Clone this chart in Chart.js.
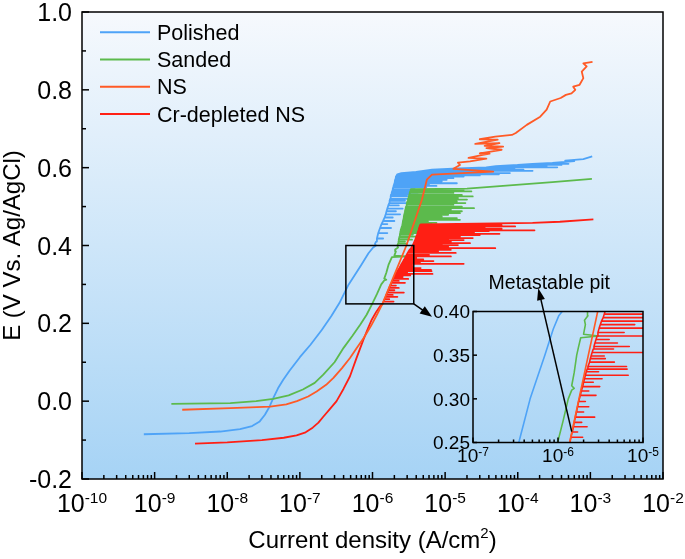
<!DOCTYPE html>
<html>
<head>
<meta charset="utf-8">
<script src="https://cdn.jsdelivr.net/npm/chart.js@4.4.1/dist/chart.umd.min.js"></script>
<style>
  html, body { margin: 0; padding: 0; background: #fff; }
  #wrap { position: relative; width: 685px; height: 559px; }
  #main { position: absolute; left: 0; top: 0; }
  #inset { position: absolute; left: 420px; top: 265px; }
</style>
</head>
<body>
<div id="wrap">
  <canvas id="main" width="685" height="559"></canvas>
  <canvas id="inset" width="250" height="210"></canvas>
</div>
<script>
// series names, colours
const seriesNames = ['Polished', 'Sanded', 'NS', 'Cr-depleted NS'];
const seriesColors = ['#4ea3f7', '#5cba4c', '#ff5a26', '#ff1f14'];

// [current density (A/cm2), E (V)]
// pits lists are [E, base current, spike current]
const polishedCurve = [
  [7.1e-10,-0.085],[3e-9,-0.082],[8e-9,-0.078],[1.5e-8,-0.072],[2.2e-8,-0.064],[2.8e-8,-0.052],
  [3.3e-8,-0.035],[3.8e-8,-0.015],[4.3e-8,0.008],[5.0e-8,0.033],[5.9e-8,0.055],[7.2e-8,0.078],
  [1.0e-7,0.113],[1.4e-7,0.145],[2e-7,0.183],[2.7e-7,0.218],[3.5e-7,0.252],[4.7e-7,0.30],
  [7.0e-7,0.35],[8.8e-7,0.38],[1.02e-6,0.395],[1.12e-6,0.40],[1.08e-6,0.404],[1.12e-6,0.41]
];
const polishedPits = [
  [0.418,1.15e-6,1.4e-6],[0.432,1.2e-6,1.6e-6],[0.445,1.27e-6,1.8e-6],[0.455,1.33e-6,1.6e-6],
  [0.463,1.4e-6,2.0e-6],[0.472,1.47e-6,1.9e-6],[0.48,1.52e-6,2.4e-6],[0.488,1.56e-6,2.1e-6],
  [0.495,1.6e-6,2.6e-6],[0.503,1.65e-6,2.3e-6],[0.509,1.7e-6,3.3e-6],[0.515,1.72e-6,2.8e-6],
  [0.52,1.75e-6,3.6e-6],[0.526,1.78e-6,3.0e-6],[0.531,1.8e-6,3.3e-6],[0.536,1.84e-6,4.2e-6],
  [0.54,1.87e-6,4.9e-6],[0.545,1.9e-6,3.8e-6],[0.55,1.93e-6,5.5e-6],[0.553,1.95e-6,7.6e-6],
  [0.557,1.98e-6,6e-6],[0.56,2.0e-6,1.45e-5],[0.565,2.03e-6,9e-6],[0.569,2.05e-6,1.05e-5],
  [0.573,2.08e-6,1.3e-5],[0.577,2.1e-6,1.8e-5],[0.58,2.15e-6,3.0e-5],[0.583,2.2e-6,5.5e-5],
  [0.586,2.5e-6,7.8e-5],[0.589,4e-6,3e-5],[0.592,5e-6,1.6e-4],[0.595,6.6e-6,1.2e-4],
  [0.598,1.5e-5,9e-5],[0.601,3.7e-5,3.5e-4],[0.604,5e-5,2.5e-4],[0.607,1e-4,4e-4],
  [0.61,1.6e-4,5e-4]
];
const polishedTail = [[3e-4,0.612],[6e-4,0.617],[4.5e-4,0.618],[8e-4,0.622],[1.06e-3,0.629]];

const sandedCurve = [
  [1.7e-9,-0.007],[1.1e-8,-0.005],[2.5e-8,0.0],[4.3e-8,0.006],[7e-8,0.015],[1.1e-7,0.03],
  [1.6e-7,0.047],[2.1e-7,0.068],[3e-7,0.1],[4e-7,0.137],[5.3e-7,0.168],[6.8e-7,0.197],
  [8.3e-7,0.222],[9.9e-7,0.25],[1.15e-6,0.275],[1.32e-6,0.30],[1.45e-6,0.31],[1.55e-6,0.312],
  [1.45e-6,0.315],[1.55e-6,0.33],[1.66e-6,0.35],[1.75e-6,0.36],[1.85e-6,0.37],[3.0e-6,0.372],
  [2.0e-6,0.374],[2.1e-6,0.385],[2.05e-6,0.39],[2.25e-6,0.395],[2.2e-6,0.40]
];
const sandedPits = [
  [0.405,2.25e-6,3.0e-6],[0.41,2.28e-6,2.8e-6],[0.415,2.3e-6,3.5e-6],[0.42,2.33e-6,3.2e-6],
  [0.423,2.35e-6,4.6e-6],[0.428,2.38e-6,3.6e-6],[0.432,2.4e-6,5.0e-6],[0.436,2.42e-6,6.2e-6],
  [0.44,2.45e-6,4.2e-6],[0.445,2.5e-6,5.5e-6],[0.45,2.55e-6,4.8e-6],[0.454,2.58e-6,6.5e-6],
  [0.458,2.6e-6,7.6e-6],[0.462,2.62e-6,5.8e-6],[0.466,2.65e-6,1.6e-5],[0.47,2.68e-6,1.45e-5],
  [0.474,2.7e-6,9e-6],[0.479,2.73e-6,1.1e-5],[0.483,2.76e-6,1.6e-5],[0.488,2.8e-6,1.7e-5],
  [0.492,2.83e-6,1.2e-5],[0.496,2.86e-6,2.5e-5],[0.5,2.9e-6,1.7e-5],[0.505,2.95e-6,1.3e-5],
  [0.509,2.98e-6,1.9e-5],[0.513,3.02e-6,1.45e-5],[0.518,3.08e-6,2.0e-5],[0.522,3.12e-6,1.5e-5],
  [0.526,3.17e-6,2.4e-5],[0.53,3.2e-6,1.7e-5],[0.535,3.25e-6,1.3e-5],[0.539,3.3e-6,2.3e-5],
  [0.543,3.35e-6,1.8e-5]
];
const sandedTail = [[3.4e-6,0.545],[2e-5,0.546],[9.5e-5,0.556],[3e-4,0.563],[1.05e-3,0.571]];

const nsCurve = [
  [2.4e-9,-0.022],[1.1e-8,-0.018],[3.9e-8,-0.014],[6.5e-8,-0.008],[9.1e-8,0.0],[1.3e-7,0.012],
  [1.7e-7,0.025],[2.3e-7,0.042],[2.9e-7,0.06],[3.8e-7,0.085],[4.9e-7,0.111],[6.1e-7,0.137],
  [7.6e-7,0.163],[9.5e-7,0.193],[1.15e-6,0.222],[1.37e-6,0.25],[2.93e-6,0.40],[4.8e-6,0.518],
  [5.6e-6,0.569],[6.6e-6,0.582],[4.6e-5,0.59],[1.3e-5,0.597],[1.6e-5,0.607],[1.5e-5,0.613],
  [2.2e-5,0.616],[3.7e-5,0.623],[2.1e-5,0.625],[3.3e-5,0.633],[4.1e-5,0.636],[3.0e-5,0.637],
  [6.0e-5,0.646],[3.7e-5,0.65],[6.3e-5,0.654],[3.5e-5,0.656],[5.6e-5,0.663],[2.6e-5,0.661],
  [5.3e-5,0.672],[3.0e-5,0.673],[4.9e-5,0.68],[8.3e-5,0.684],[9.4e-5,0.689],[1.33e-4,0.71],
  [2.04e-4,0.731],[2.5e-4,0.749],[2.8e-4,0.77],[3.9e-4,0.779],[4.6e-4,0.787],[5.5e-4,0.791],
  [6.2e-4,0.8],[5.8e-4,0.808],[7.1e-4,0.813],[8.0e-4,0.83],[7.6e-4,0.847],[8.9e-4,0.86],
  [8.0e-4,0.868],[1.07e-3,0.872]
];

const crCurve = [
  [3.6e-9,-0.109],[1e-8,-0.106],[3.0e-8,-0.1],[6e-8,-0.094],[9e-8,-0.088],[1.2e-7,-0.08],
  [1.5e-7,-0.068],[1.8e-7,-0.055],[2.1e-7,-0.04],[2.6e-7,-0.02],[3.2e-7,0.0],[4e-7,0.032],
  [4.9e-7,0.064],[6e-7,0.11],[7.5e-7,0.158],[8.7e-7,0.188],[9.8e-7,0.21],[1.13e-6,0.23],
  [1.27e-6,0.244],[1.38e-6,0.25]
];
const crPits = [
  [0.256,1.42e-6,1.95e-6],[0.262,1.47e-6,1.7e-6],[0.268,1.52e-6,2.2e-6],[0.273,1.55e-6,1.9e-6],
  [0.279,1.6e-6,2.7e-6],[0.285,1.65e-6,2.0e-6],[0.291,1.7e-6,2.3e-6],[0.297,1.75e-6,2.1e-6],
  [0.304,1.83e-6,2.8e-6],[0.309,1.88e-6,2.3e-6],[0.314,1.95e-6,3.1e-6],[0.319,2.0e-6,2.6e-6],
  [0.323,2.05e-6,3.3e-6],[0.327,2.1e-6,6.7e-6],[0.331,2.15e-6,3.0e-6],[0.334,2.2e-6,6.5e-6],
  [0.337,2.25e-6,6.4e-6],[0.342,2.35e-6,4.6e-6],[0.346,2.4e-6,3.6e-6],[0.349,2.45e-6,3.5e-6],
  [0.353,2.52e-6,1.8e-5],[0.357,2.6e-6,4.5e-6],[0.36,2.65e-6,6.9e-6],[0.364,2.72e-6,5.0e-6],
  [0.368,2.8e-6,4.0e-6],[0.372,2.88e-6,1.2e-5],[0.376,2.95e-6,6e-6],[0.381,3.05e-6,1.4e-5],
  [0.385,3.15e-6,8e-6],[0.389,3.25e-6,1.2e-5],[0.393,3.4e-6,4.9e-5],[0.397,3.5e-6,1.1e-5],
  [0.401,3.6e-6,1.5e-5],[0.404,3.65e-6,9e-6],[0.406,3.7e-6,2.2e-5],[0.41,3.78e-6,1.2e-5],
  [0.414,3.85e-6,1.8e-5],[0.417,3.9e-6,1.1e-5],[0.419,3.95e-6,2.4e-5],[0.423,4.0e-6,1.6e-5],
  [0.427,4.1e-6,3.0e-5],[0.43,4.15e-6,5.6e-5],[0.434,4.2e-6,2.5e-5],[0.437,4.25e-6,4.0e-5],
  [0.439,4.3e-6,1.7e-4],[0.443,4.35e-6,6e-5],[0.446,4.4e-6,3.5e-5],[0.449,4.45e-6,9.2e-5],
  [0.452,4.5e-6,6e-5]
];
const crTail = [[4.6e-6,0.454],[1.6e-4,0.458],[3.8e-4,0.461],[1.1e-3,0.467]];

const drawOrder = [3, 2, 0, 1];

// axes
const xMainExps = [-10, -9, -8, -7, -6, -5, -4, -3, -2];
const yMainTicks = [-0.2, 0.0, 0.2, 0.4, 0.6, 0.8, 1.0];
const yMainMinor = [-0.1, 0.1, 0.3, 0.5, 0.7, 0.9];
const xInsetExps = [-7, -6, -5];
const yInsetTicks = [0.25, 0.30, 0.35, 0.40];

// zoomed window shown in the inset, and annotation anchors
const zoomBox = { iMin: 4.3e-7, iMax: 3.7e-6, eMin: 0.25, eMax: 0.40 };
const zoomArrowTip = { i: 6.6e-6, e: 0.217 };
const pitLabel = { text: 'Metastable pit', i: 7.9e-7, e: 0.4263 };
const pitArrow = { fromI: 1.45e-6, fromE: 0.2624, toI: 5.86e-7, toE: 0.4266 };

const FONT = '"Liberation Sans", Arial, Helvetica, sans-serif';

// a pit: current jumps out at constant E and comes back
function withPits(curve, pits, tail) {
  const out = curve.slice();
  pits.forEach(p => {
    out.push([p[1], p[0]], [p[2], p[0]], [p[1], p[0]]);
  });
  return out.concat(tail);
}

const seriesData = [
  withPits(polishedCurve, polishedPits, polishedTail),
  withPits(sandedCurve, sandedPits, sandedTail),
  nsCurve,
  withPits(crCurve, crPits, crTail)
];

function toPoints(pairs) {
  return pairs.map(p => ({ x: p[0], y: p[1] }));
}

function drawPow(ctx, cx, y, exp, big, small, raise) {
  ctx.font = big + 'px ' + FONT;
  const w1 = ctx.measureText('10').width;
  ctx.font = small + 'px ' + FONT;
  const w2 = ctx.measureText(String(exp)).width;
  const x0 = cx - (w1 + w2) / 2;
  ctx.textAlign = 'left';
  ctx.textBaseline = 'alphabetic';
  ctx.font = big + 'px ' + FONT;
  ctx.fillText('10', x0, y);
  ctx.font = small + 'px ' + FONT;
  ctx.fillText(String(exp), x0 + w1, y - raise);
}

function drawArrow(ctx, x1, y1, x2, y2, head, half) {
  const ang = Math.atan2(y2 - y1, x2 - x1);
  const c = Math.cos(ang), s = Math.sin(ang);
  ctx.beginPath();
  ctx.moveTo(x1, y1);
  ctx.lineTo(x2 - head * 0.8 * c, y2 - head * 0.8 * s);
  ctx.stroke();
  ctx.beginPath();
  ctx.moveTo(x2, y2);
  ctx.lineTo(x2 - head * c + half * s, y2 - head * s - half * c);
  ctx.lineTo(x2 - head * c - half * s, y2 - head * s + half * c);
  ctx.closePath();
  ctx.fill();
}

function logTicks(ctx, xs, a, exps, majorLen, minorLen) {
  for (let n = 0; n < exps.length; n++) {
    const e = exps[n];
    const last = n === exps.length - 1;
    for (let k = 1; k <= (last ? 1 : 9); k++) {
      const px = xs.getPixelForValue(k * Math.pow(10, e));
      const len = k === 1 ? majorLen : minorLen;
      ctx.beginPath();
      ctx.moveTo(px, a.bottom);
      ctx.lineTo(px, a.bottom - len);
      ctx.stroke();
    }
  }
}

function makeDatasets(width) {
  return seriesData.map((d, i) => ({
    label: seriesNames[i],
    data: toPoints(d),
    borderColor: seriesColors[i],
    backgroundColor: seriesColors[i],
    borderWidth: width,
    borderJoinStyle: 'round',
    showLine: true,
    pointRadius: 0,
    order: drawOrder[i],
    clip: 0
  }));
}

function hiddenAxes(xMin, xMax, yMin, yMax) {
  return {
    x: { type: 'logarithmic', min: xMin, max: xMax,
         ticks: { display: false }, grid: { display: false }, border: { display: false },
         afterFit(s) { s.height = 0; } },
    y: { type: 'linear', min: yMin, max: yMax,
         ticks: { display: false }, grid: { display: false }, border: { display: false },
         afterFit(s) { s.width = 0; } }
  };
}

const mainDecor = {
  id: 'mainDecor',
  beforeDatasetsDraw(chart) {
    const { ctx, chartArea: a } = chart;
    const g = ctx.createLinearGradient(0, a.top, 0, a.bottom);
    g.addColorStop(0, '#f6f9fd');
    g.addColorStop(1, '#a6d3f5');
    ctx.save();
    ctx.fillStyle = g;
    ctx.fillRect(a.left, a.top, a.right - a.left, a.bottom - a.top);
    ctx.restore();
  },
  afterDatasetsDraw(chart) {
    const { ctx, chartArea: a, scales } = chart;
    const xs = scales.x, ys = scales.y;
    ctx.save();
    ctx.strokeStyle = '#000';
    ctx.fillStyle = '#000';
    ctx.lineWidth = 1.5;

    // ticks, inward
    logTicks(ctx, xs, a, xMainExps, 7, 4);
    yMainTicks.forEach(v => {
      const py = ys.getPixelForValue(v);
      ctx.beginPath(); ctx.moveTo(a.left, py); ctx.lineTo(a.left + 7, py); ctx.stroke();
    });
    yMainMinor.forEach(v => {
      const py = ys.getPixelForValue(v);
      ctx.beginPath(); ctx.moveTo(a.left, py); ctx.lineTo(a.left + 4, py); ctx.stroke();
    });
    ctx.strokeRect(a.left, a.top, a.right - a.left, a.bottom - a.top);

    // tick labels
    xMainExps.forEach(e => {
      drawPow(ctx, xs.getPixelForValue(Math.pow(10, e)), a.bottom + 32.5, e, 25, 15.5, 8.5);
    });
    ctx.font = '25px ' + FONT;
    ctx.textAlign = 'right';
    ctx.textBaseline = 'alphabetic';
    yMainTicks.forEach(v => {
      ctx.fillText(v.toFixed(1), a.left - 10, ys.getPixelForValue(v) + 9);
    });

    // axis titles
    ctx.font = '24px ' + FONT;
    const t1 = 'Current density (A/cm', t2 = '2', t3 = ')';
    const w1 = ctx.measureText(t1).width, w3 = ctx.measureText(t3).width;
    ctx.font = '15px ' + FONT;
    const w2 = ctx.measureText(t2).width;
    const x0 = (a.left + a.right) / 2 - (w1 + w2 + w3) / 2;
    const yb = a.bottom + 69;
    ctx.textAlign = 'left';
    ctx.font = '24px ' + FONT;
    ctx.fillText(t1, x0, yb);
    ctx.font = '15px ' + FONT;
    ctx.fillText(t2, x0 + w1, yb - 10);
    ctx.font = '24px ' + FONT;
    ctx.fillText(t3, x0 + w1 + w2, yb);

    ctx.save();
    ctx.translate(20, (a.top + a.bottom) / 2);
    ctx.rotate(-Math.PI / 2);
    ctx.textAlign = 'center';
    ctx.fillText('E (V Vs. Ag/AgCl)', 0, 0);
    ctx.restore();

    // legend
    ctx.font = '21.5px ' + FONT;
    ctx.textAlign = 'left';
    seriesNames.forEach((name, i) => {
      const ly = a.top + 20.3 + i * 27.2;
      ctx.strokeStyle = seriesColors[i];
      ctx.lineWidth = 2;
      ctx.beginPath(); ctx.moveTo(a.left + 18, ly); ctx.lineTo(a.left + 68, ly); ctx.stroke();
      ctx.fillStyle = '#000';
      ctx.fillText(name, a.left + 75, ly + 7.7);
    });

    // zoom window and arrow toward inset
    ctx.strokeStyle = '#000';
    ctx.fillStyle = '#000';
    ctx.lineWidth = 1.5;
    const bx1 = xs.getPixelForValue(zoomBox.iMin), bx2 = xs.getPixelForValue(zoomBox.iMax);
    const by1 = ys.getPixelForValue(zoomBox.eMax), by2 = ys.getPixelForValue(zoomBox.eMin);
    ctx.strokeRect(bx1, by1, bx2 - bx1, by2 - by1);
    drawArrow(ctx, bx2, by2, xs.getPixelForValue(zoomArrowTip.i), ys.getPixelForValue(zoomArrowTip.e), 12, 4.5);
    ctx.restore();
  }
};

const insetDecor = {
  id: 'insetDecor',
  afterDatasetsDraw(chart) {
    const { ctx, chartArea: a, scales } = chart;
    const xs = scales.x, ys = scales.y;
    ctx.save();
    ctx.strokeStyle = '#000';
    ctx.fillStyle = '#000';
    ctx.lineWidth = 1.5;
    logTicks(ctx, xs, a, xInsetExps, 5, 3);
    yInsetTicks.forEach(v => {
      const py = ys.getPixelForValue(v);
      ctx.beginPath(); ctx.moveTo(a.left, py); ctx.lineTo(a.left + 4, py); ctx.stroke();
    });
    ctx.strokeRect(a.left, a.top, a.right - a.left, a.bottom - a.top);

    xInsetExps.forEach(e => {
      drawPow(ctx, xs.getPixelForValue(Math.pow(10, e)), a.bottom + 19, e, 19, 12, 5.5);
    });
    ctx.font = '19px ' + FONT;
    ctx.textAlign = 'right';
    ctx.textBaseline = 'alphabetic';
    yInsetTicks.forEach(v => {
      ctx.fillText(v.toFixed(2), a.left - 3, ys.getPixelForValue(v) + 6.8);
    });

    // metastable pit label
    ctx.font = '19.5px ' + FONT;
    ctx.textAlign = 'center';
    ctx.fillText(pitLabel.text, xs.getPixelForValue(pitLabel.i), ys.getPixelForValue(pitLabel.e));
    ctx.lineWidth = 1.5;
    drawArrow(ctx,
      xs.getPixelForValue(pitArrow.fromI), ys.getPixelForValue(pitArrow.fromE),
      xs.getPixelForValue(pitArrow.toI), ys.getPixelForValue(pitArrow.toE), 12, 4);
    ctx.restore();
  }
};

new Chart(document.getElementById('main'), {
  type: 'scatter',
  data: { datasets: makeDatasets(1.8) },
  options: {
    responsive: false,
    animation: false,
    devicePixelRatio: 1,
    layout: { padding: { left: 82, right: 22, top: 12, bottom: 80 } },
    plugins: { legend: { display: false }, tooltip: { enabled: false } },
    scales: hiddenAxes(1e-10, 1e-2, -0.2, 1.0)
  },
  plugins: [mainDecor]
});

new Chart(document.getElementById('inset'), {
  type: 'scatter',
  data: { datasets: makeDatasets(1.6) },
  options: {
    responsive: false,
    animation: false,
    devicePixelRatio: 1,
    layout: { padding: { left: 53, right: 27, top: 46.5, bottom: 32.5 } },
    plugins: { legend: { display: false }, tooltip: { enabled: false } },
    scales: hiddenAxes(1e-7, 1e-5, 0.25, 0.40)
  },
  plugins: [insetDecor]
});
</script>
</body>
</html>
